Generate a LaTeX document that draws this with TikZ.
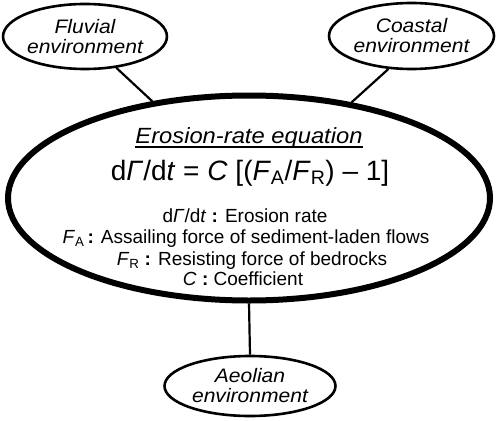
\documentclass[tikz,border=0pt]{standalone}
\usepackage{fontspec}
\setmainfont{Liberation Sans}
\newfontfamily\widesans[FakeStretch=1.08]{Liberation Sans}
\usetikzlibrary{shapes.geometric}
\begin{document}
\begin{tikzpicture}[x=1pt,y=-1pt,
  env/.style={ellipse, draw, line width=2.6pt, inner sep=0pt, align=center,
    font=\fontsize{19.5}{20}\widesans\itshape},
  link/.style={line width=2.2pt},
  desc/.style={anchor=base, inner sep=0pt, font=\fontsize{19}{21}\selectfont}]
\useasboundingbox (0,0) rectangle (500,420);
% environment ellipses
\node[env, minimum width=158pt, minimum height=65pt] (fluvial) at (85,36.5) {Fluvial\\environment};
\node[env, minimum width=165pt, minimum height=66pt] (coastal) at (411.5,36) {Coastal\\environment};
\node[env, minimum width=171pt, minimum height=60pt] (aeolian) at (250,386) {Aeolian\\environment};
% main ellipse
\node[ellipse, draw, line width=6pt, minimum width=482pt, minimum height=205pt, inner sep=0pt] (main) at (249,198) {};
% connectors
\draw[link] (fluvial.-45.4) -- (main.135.9);
\draw[link] (coastal.235.4) -- (main.43.2);
\draw[link] (main.south) -- (aeolian.north);
% texts
\node[anchor=base, inner sep=0pt, font=\fontsize{22}{24}\widesans\itshape] (title) at (249,143) {Erosion-rate equation};
\draw[line width=1.3pt] ([yshift=-4pt]title.base west) -- ([yshift=-4pt]title.base east);
\node[anchor=base, inner sep=0pt, font=\fontsize{28}{30}\selectfont] (eq) at (250,180)
  {d\textit{Γ}/d\textit{t} = \textit{C} [(\textit{F}\textsubscript{A}/\textit{F}\textsubscript{R}) – 1]};
\node[desc] (d1) at (245,222) {d\textit{Γ}/d\textit{t} \textbf{:} Erosion rate};
\node[desc] (d2) at (246,243) {\textit{F}\textsubscript{A}\,\textbf{:} Assailing force of sediment-laden flows};
\node[desc] (d3) at (252,265) {\textit{F}\textsubscript{R} \textbf{:} Resisting force of bedrocks};
\node[desc] (d4) at (243,285) {\textit{C} \textbf{:} Coefficient};
\end{tikzpicture}
\end{document}
